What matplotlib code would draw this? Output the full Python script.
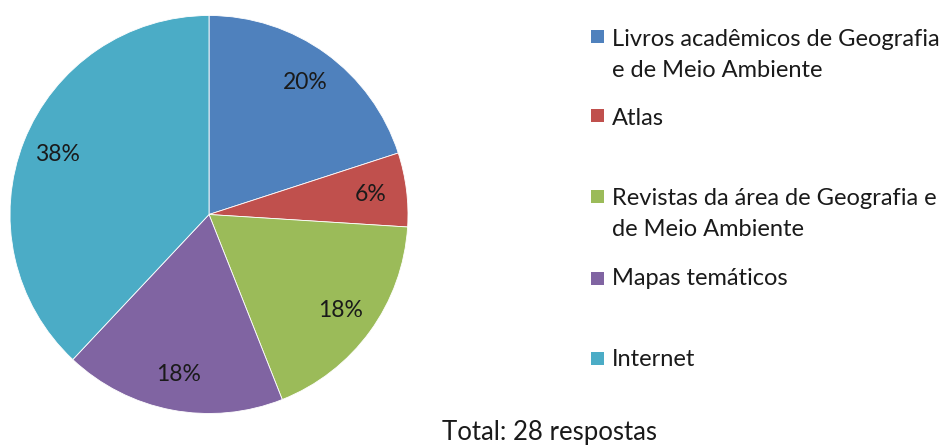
import matplotlib.pyplot as plt
from matplotlib.patches import Rectangle

plt.rcParams['font.family'] = ['Lato', 'DejaVu Sans']

categorias = ['Livros acadêmicos de Geografia\ne de Meio Ambiente',
              'Atlas',
              'Revistas da área de Geografia e\nde Meio Ambiente',
              'Mapas temáticos',
              'Internet']
valores = [20, 6, 18, 18, 38]
cores = ['#4F81BD', '#C0504D', '#9BBB59', '#8064A2', '#4BACC6']
total_txt = 'Total: 28 respostas'

W, H = 950, 448
fig = plt.figure(figsize=(W / 100, H / 100), dpi=100)

# pie centred at (209, 214) px, radius ~199 px
cx, cy, r = 209, 214.5, 199
ax = fig.add_axes([(cx - r) / W, (H - cy - r) / H, 2 * r / W, 2 * r / H])
ax.pie(valores, colors=cores, startangle=90, counterclock=False,
       autopct='%1.0f%%', pctdistance=0.82,
       wedgeprops=dict(edgecolor='white', linewidth=0.6),
       textprops=dict(fontsize=16.5, color='#1a1a1a'))
ax.set_xlim(-1, 1)
ax.set_ylim(-1, 1)
ax.set_aspect('equal')
ax.axis('off')

# legend drawn by hand (Excel-style uneven spacing)
baselines = [46, 125, 205, 285, 366]
marker_y = [37, 116, 197, 278, 358]
for lab, cor, yb, ym in zip(categorias, cores, baselines, marker_y):
    fig.patches.append(Rectangle(((591) / W, (H - ym - 6.5) / H), 13 / W, 13 / H,
                                 transform=fig.transFigure, facecolor=cor,
                                 edgecolor='none'))
    for i, linha in enumerate(lab.split('\n')):
        fig.text(612 / W, (H - yb - i * 31) / H, linha, fontsize=17,
                 color='#1a1a1a', va='baseline', ha='left')

fig.text(442 / W, (H - 440) / H, total_txt, fontsize=18.5, color='#1a1a1a',
         va='baseline', ha='left')

fig.savefig('out.png', dpi=100)
